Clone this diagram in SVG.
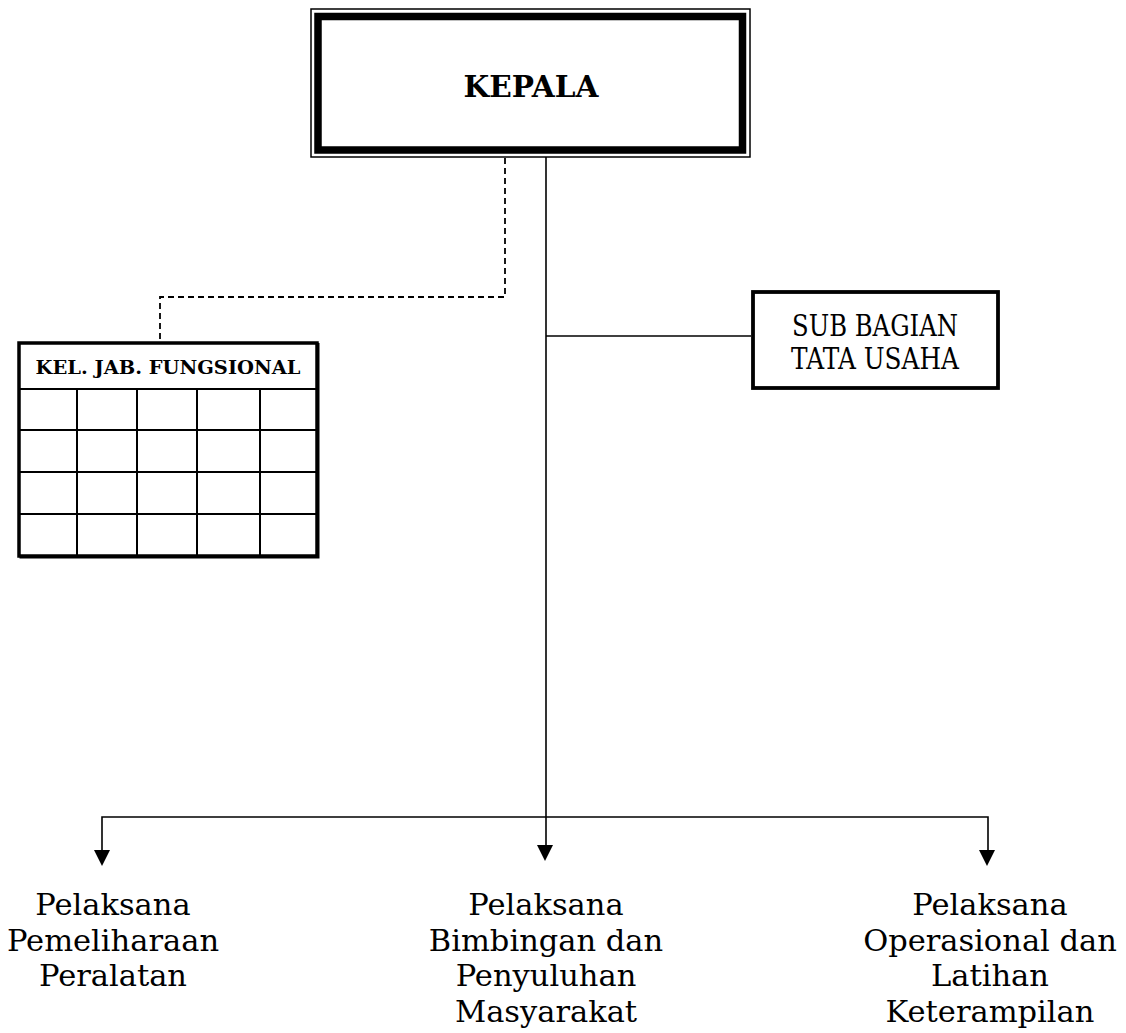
<svg xmlns="http://www.w3.org/2000/svg" width="1126" height="1033" viewBox="0 0 1126 1033">
<style>
.line{stroke:#000;stroke-width:1.6;fill:none}
.dash{stroke:#000;stroke-width:1.8;fill:none;stroke-dasharray:6 4}
.lbl{font-family:"DejaVu Serif","Liberation Serif",serif;font-size:30.5px;fill:#000;text-anchor:middle}
.bold{font-family:"DejaVu Serif","Liberation Serif",serif;font-weight:bold;fill:#000;text-anchor:middle}
.grid{stroke:#000;stroke-width:2;fill:none}
</style>
<rect width="1126" height="1033" fill="#fff"/>
<g id="connectors">
<path class="dash" d="M505,158 V297 H160 V342"/>
<path class="line" d="M546,157 V846"/>
<path class="line" d="M546,336 H751"/>
<path class="line" d="M102,851 V817 H988 V851"/>
<polygon points="94,850 110,850 102,866" fill="#000"/>
<polygon points="537,845 553,845 545,861" fill="#000"/>
<polygon points="979,850 995,850 987,866" fill="#000"/>
</g>
<g id="kepala">
<rect x="311" y="9" width="439" height="148" fill="#fff" stroke="#000" stroke-width="1.5"/>
<rect x="318" y="16.5" width="424.5" height="133.5" fill="#fff" stroke="#000" stroke-width="7.5"/>
<text class="bold" x="531" y="97" font-size="29" textLength="135" lengthAdjust="spacingAndGlyphs">KEPALA</text>
</g>
<g id="sub-bagian">
<rect x="753" y="292" width="245" height="96" fill="#fff" stroke="#000" stroke-width="3.8"/>
<text class="lbl" x="875" y="336" font-size="27" textLength="166" lengthAdjust="spacingAndGlyphs">SUB BAGIAN</text>
<text class="lbl" x="875" y="369" font-size="27" textLength="168" lengthAdjust="spacingAndGlyphs">TATA USAHA</text>
</g>
<g id="kel-jab-fungsional">
<rect x="19" y="343" width="298" height="213" fill="#fff" stroke="#000" stroke-width="3.5"/>
<path d="M19.5,557.5 H318.5 V343" stroke="#000" stroke-width="2" fill="none"/>
<line class="grid" x1="19" y1="389" x2="317" y2="389" stroke-width="3.5"/>
<line class="grid" x1="19" y1="430" x2="317" y2="430"/>
<line class="grid" x1="19" y1="472" x2="317" y2="472"/>
<line class="grid" x1="19" y1="514" x2="317" y2="514"/>
<line class="grid" x1="77" y1="389" x2="77" y2="556"/>
<line class="grid" x1="137" y1="389" x2="137" y2="556"/>
<line class="grid" x1="197" y1="389" x2="197" y2="556"/>
<line class="grid" x1="260" y1="389" x2="260" y2="556"/>
<text class="bold" x="168" y="374" font-size="19" textLength="265" lengthAdjust="spacingAndGlyphs">KEL. JAB. FUNGSIONAL</text>
</g>
<g id="pelaksana-pemeliharaan">
<text class="lbl" x="113" y="915">Pelaksana</text>
<text class="lbl" x="113" y="951">Pemeliharaan</text>
<text class="lbl" x="113" y="986">Peralatan</text>
</g>
<g id="pelaksana-bimbingan">
<text class="lbl" x="546" y="915">Pelaksana</text>
<text class="lbl" x="546" y="951">Bimbingan dan</text>
<text class="lbl" x="546" y="986">Penyuluhan</text>
<text class="lbl" x="546" y="1022">Masyarakat</text>
</g>
<g id="pelaksana-operasional">
<text class="lbl" x="990" y="915">Pelaksana</text>
<text class="lbl" x="990" y="951">Operasional dan</text>
<text class="lbl" x="990" y="986">Latihan</text>
<text class="lbl" x="990" y="1022">Keterampilan</text>
</g>
</svg>
